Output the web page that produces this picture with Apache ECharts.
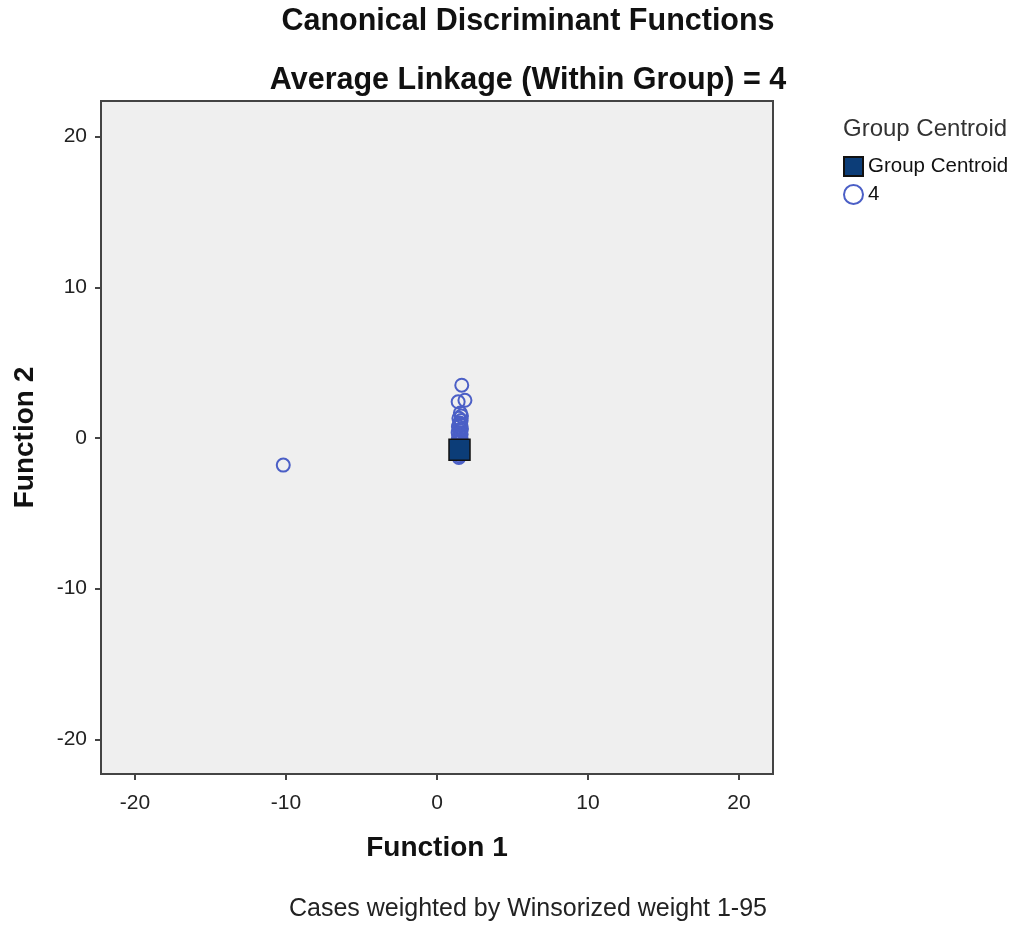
<!DOCTYPE html>
<html><head><meta charset="utf-8">
<script src="https://cdn.jsdelivr.net/npm/echarts@6/dist/echarts.min.js"></script>
<style>html,body{margin:0;padding:0;background:#fff}#c{width:1016px;height:926px}</style>
</head><body><div id="c"></div>
<script>
const xTicks = [-20, -10, 0, 10, 20];
const yTicks = [-20, -10, 0, 10, 20];
const centroid = [[1.49, -0.78]];
const group4 = [
  [1.64, 3.5], [1.4, 2.4], [1.85, 2.5], [1.55, 1.65], [1.62, 1.45], [1.45, 1.3],
  [1.6, 1.15], [1.5, 1.0], [1.58, 0.85], [1.42, 0.75], [1.62, 0.6], [1.5, 0.5],
  [1.4, 0.35], [1.6, 0.25], [1.5, 0.1], [1.42, 0.0], [1.6, -0.1], [1.5, -0.2],
  [1.38, -0.3], [1.62, -0.4], [1.48, -0.5], [1.4, -0.65], [1.6, -0.7], [1.5, -0.85],
  [1.42, -1.0], [1.58, -1.1], [1.5, -1.2], [1.45, -1.3], [1.55, 0.95], [1.52, 0.3],
  [-10.18, -1.8]
];
const chart = echarts.init(document.getElementById('c'));
const font = "'Liberation Sans', Arial, sans-serif";
chart.setOption({
  animation: false,
  title: [
    {text: 'Canonical Discriminant Functions', left: 528, top: 6, padding: 0, textAlign: 'center',
     textStyle: {fontFamily: font, fontSize: 30.5, fontWeight: 'bold', color: '#111'}},
    {text: 'Average Linkage (Within Group) = 4', left: 528, top: 65, padding: 0, textAlign: 'center',
     textStyle: {fontFamily: font, fontSize: 30.5, fontWeight: 'bold', color: '#111'}},
    {text: 'Cases weighted by Winsorized weight 1-95', left: 528, top: 897, padding: 0, textAlign: 'center',
     textStyle: {fontFamily: font, fontSize: 25, fontWeight: 'normal', color: '#222'}},
    {text: 'Group Centroid', left: 843, top: 117, padding: 0,
     textStyle: {fontFamily: font, fontSize: 24, fontWeight: 'normal', color: '#333'}}
  ],
  legend: {
    orient: 'vertical', left: 843, top: 156, padding: 0, itemWidth: 19, itemHeight: 19, itemGap: 7,
    textStyle: {fontFamily: font, fontSize: 20.5, color: '#111'},
    data: ['Group Centroid', '4']
  },
  grid: {left: 101, top: 101, width: 672, height: 673, show: true,
         backgroundColor: '#efefef', borderColor: '#444', borderWidth: 2},
  xAxis: {
    type: 'value', min: -22.25, max: 22.25,
    name: 'Function 1', nameLocation: 'middle', nameGap: 60,
    nameTextStyle: {fontFamily: font, fontSize: 28, fontWeight: 'bold', color: '#111'},
    axisLine: {show: true, onZero: false, lineStyle: {color: '#444', width: 2}},
    axisTick: {show: true, length: 6, customValues: xTicks, lineStyle: {color: '#444', width: 2}},
    axisLabel: {customValues: xTicks, margin: 19, fontFamily: font, fontSize: 21, color: '#222'},
    splitLine: {show: false}
  },
  yAxis: {
    type: 'value', min: -22.3, max: 22.36,
    name: 'Function 2', nameLocation: 'middle', nameGap: 62,
    nameTextStyle: {fontFamily: font, fontSize: 28, fontWeight: 'bold', color: '#111'},
    axisLine: {show: true, onZero: false, lineStyle: {color: '#444', width: 2}},
    axisTick: {show: true, length: 6, customValues: yTicks, lineStyle: {color: '#444', width: 2}},
    axisLabel: {customValues: yTicks, margin: 14, fontFamily: font, fontSize: 21, color: '#222'},
    splitLine: {show: false}
  },
  series: [
    {name: '4', type: 'scatter', data: group4, symbol: 'circle', symbolSize: 13,
     itemStyle: {color: 'rgba(0,0,0,0)', borderColor: '#4b5fc6', borderWidth: 2, opacity: 1}, z: 2},
    {name: 'Group Centroid', type: 'scatter', data: centroid, symbol: 'rect', symbolSize: 21,
     itemStyle: {color: '#0c3d78', borderColor: '#111', borderWidth: 1.5, opacity: 1}, z: 3}
  ]
});
</script></body></html>
